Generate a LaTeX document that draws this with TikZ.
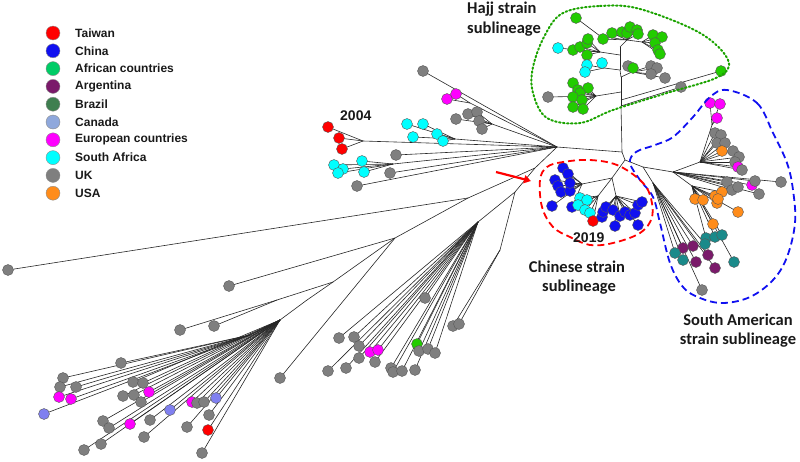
\documentclass[tikz,border=0pt]{standalone}
\usepackage{fontspec}
\setmainfont{Liberation Sans}
\newfontfamily\calib{Carlito}
\usetikzlibrary{arrows.meta}
\definecolor{ctw}{HTML}{FF0000}
\definecolor{ccb}{HTML}{1010F0}
\definecolor{cgr}{HTML}{22CC00}
\definecolor{cgl}{HTML}{00CC66}
\definecolor{car}{HTML}{7A1A6A}
\definecolor{cbr}{HTML}{3F7F50}
\definecolor{cte}{HTML}{1A8A8A}
\definecolor{cca}{HTML}{8080F0}
\definecolor{ccl}{HTML}{8FA8DC}
\definecolor{ceu}{HTML}{FF00FF}
\definecolor{ccy}{HTML}{00FFFF}
\definecolor{cuk}{HTML}{7F7F7F}
\definecolor{cus}{HTML}{FF8C1A}
\def\Leaves{%
gr/576/18/hB, gr/603/39/hA, gr/612/33/hA, gr/622/32/hA, gr/627/33/hA, gr/630/27/hA, gr/637/30/hA, gr/638/34/hA,
gr/653/35/hC, gr/662/37/hC, gr/655/43/hC, gr/658/50/hC, gr/660/54/hC,
cy/558/48/hD, gr/573/50/hD, gr/580/47/hD, gr/587/43/hD, gr/588/39/hD, gr/587/55/hD,
cy/587/65/hE, cy/585/72/hE, cy/602/63/hE,
uk/628/66/hF, gr/633/68/hF, uk/651/66/hF, uk/657/68/hF, uk/651/74/hF, uk/665/78/hF,
uk/548/97/hG, gr/573/83/hG, gr/578/90/hG, gr/588/88/hG, gr/580/93/hG, gr/573/97/hG, gr/582/100/hG, gr/573/107/hG, gr/583/109/hG,
gr/721/71/t5, uk/681/87/t6,
cb/563/168/cL, cb/568/174/cL, cb/555/180/cL, cb/558/186/cL, cb/561/192/cL, cb/570/191/cL, cb/570/183/cL, cb/552/206/cL, cb/572/207/cL,
cy/580/198/cC, cy/587/200/cC, cy/578/205/cC, cy/585/210/cC, cy/590/213/cC, tw/593/221/cC,
cb/602/217/cR, cb/603/212/cR, cb/606/207/cR, cb/613/210/cR, cb/620/216/cR, cb/625/212/cR, cb/630/215/cR, cb/635/213/cR, cb/638/205/cR, cb/642/202/cR, cb/615/226/cR, cb/638/225/cR,
eu/710/103/sm, eu/720/104/sm, eu/717/118/sm,
uk/715/133/sa3, uk/721/135/sa3, uk/717/143/sa3, uk/725/143/sa3, us/722/151/sa3, uk/733/151/sa3, uk/739/157/sa3, uk/735/162/sa3, eu/738/167/sa3, uk/742/170/sa3,
uk/727/182/sa2, uk/732/190/sa2, uk/738/187/sa2, eu/752/185/sa2, uk/755/181/sa2, uk/759/194/sa2, uk/781/182/sa2,
us/695/199/sa4, us/703/200/sa4, us/715/196/sa4, us/722/192/sa4, us/717/203/sa4, us/718/199/sa4, us/738/212/sa4, us/713/224/sa4,
te/706/238/sa4, te/715/237/sa4, te/722/235/sa4, te/734/262/sa4,
te/705/244/sa5, ar/683/248/sa5, ar/693/246/sa5, te/675/253/sa5, te/683/260/sa5, ar/708/255/sa5, ar/696/262/sa5, ar/715/268/sa5, uk/702/290/sa5,
uk/423/71/A, eu/447/99/jMag, eu/456/94/jMag, uk/456/119/jGr, uk/468/114/jGr, uk/477/112/jGr, uk/479/121/jGr, uk/482/129/jGr,
cy/407/124/jCy, cy/423/124/jCy, cy/413/137/jCy, cy/437/134/jCy, cy/443/141/jCy,
tw/328/127/j04, tw/339/138/j04, tw/342/149/j04,
cy/334/165/jCy2, cy/343/169/jCy2, cy/338/173/jCy2, cy/362/161/jCy2, cy/364/172/jCy2,
uk/396/155/A, uk/390/173/A, uk/357/186/A,
uk/8/270/L1, uk/229/286/L2, uk/280/378/L2, uk/214/326/L5, uk/180/330/L5,
uk/121/363/J1, uk/63/378/J1, uk/60/387/J1, uk/76/387/J1, eu/59/397/J1, eu/71/399/J1, ca/44/414/J1,
uk/133/382/J0, uk/143/383/J0, eu/149/392/J0, uk/123/396/J0, uk/134/395/J0, uk/141/402/J0, uk/103/421/J0, uk/109/428/J0, eu/130/424/J0, uk/150/420/J0, ca/170/410/J0, uk/144/437/J0, uk/101/444/J0, uk/84/450/J0,
eu/192/402/J0, uk/197/403/J0, uk/204/402/J0, ca/216/398/J0, uk/209/415/J0, uk/187/427/J0, tw/208/430/J0, uk/202/453/J0,
uk/425/298/M, uk/339/338/M, uk/354/337/M, uk/359/346/M, eu/370/352/M, eu/378/350/M, uk/359/358/M, uk/375/362/M, uk/328/371/M, uk/346/368/M,
gr/417/344/M, uk/419/351/M, uk/428/349/M, uk/435/353/M, uk/391/368/M, uk/393/372/M, uk/402/371/M, uk/415/370/M,
uk/453/326/M3, uk/459/324/M3}
\def\Edges{A/H0, H0/t6, t6/t5, t5/t4, t4/t3, t3/t2, t2/t1, t1/Htop, Htop/hA, hA/hB, hA/hC, t1/hD, t2/hE, t3/hF, t4/hG,
H0/S0, S0/C0, C0/cL, C0/cC, C0/cR, S0/sa1, sa1/sa2, sa2/sa3, sa3/sm, sa2/sa4, sa1/sa5,
A/jMag, A/jGr, A/jCy, A/j04, A/jCy2, A/B, B/L1, L1/L2, L2/L3, L3/L4, L4/J0, L3/L5, J0/J1, B/M2, M2/M, M2/M3}
\tikzset{
  br/.style={line width=0.6pt, black!85},
  leaf/.style={draw=black!65, line width=0.4pt},
  legtext/.style={anchor=west, font=\fontsize{12}{14}\selectfont\bfseries, text=black!90, inner sep=0pt},
  sublab/.style={font=\calib\fontsize{16.5}{20}\selectfont\bfseries, text=black!90, inner sep=0pt},
  yearlab/.style={anchor=base west, font=\fontsize{14}{16}\selectfont\bfseries, text=black!90, inner sep=0pt},
}
\begin{document}
\begin{tikzpicture}[x=1pt,y=-1pt]
\path[use as bounding box] (0,0) rectangle (800,461);
% junctions
\coordinate (A) at (557,147);
\coordinate (H0) at (622,152);
\coordinate (Htop) at (620,47);
\coordinate (hA) at (627,40);
\coordinate (hB) at (600,36);
\coordinate (hC) at (642,42);
\coordinate (t1) at (620,55);
\coordinate (hD) at (600,52);
\coordinate (t2) at (620,70);
\coordinate (hE) at (604,68);
\coordinate (t3) at (621,77);
\coordinate (hF) at (632,72);
\coordinate (t4) at (621,92);
\coordinate (hG) at (596,96);
\coordinate (t5) at (621,100);
\coordinate (t6) at (621,106);
\coordinate (S0) at (625,160);
\coordinate (C0) at (612,178);
\coordinate (cL) at (582,184);
\coordinate (cC) at (598,196);
\coordinate (cR) at (616,196);
\coordinate (sa1) at (643,167);
\coordinate (sa2) at (673,172);
\coordinate (sa3) at (700,162);
\coordinate (sm) at (712,125);
\coordinate (sa4) at (692,186);
\coordinate (sa5) at (653,183);
\coordinate (jMag) at (470,103);
\coordinate (jGr) at (492,124);
\coordinate (jCy) at (455,139);
\coordinate (j04) at (363,141);
\coordinate (jCy2) at (393,164);
\coordinate (B) at (535,168);
\coordinate (L1) at (468,198);
\coordinate (L2) at (395,238);
\coordinate (L3) at (333,282);
\coordinate (L4) at (307,300);
\coordinate (L5) at (277,300);
\coordinate (J0) at (280,320);
\coordinate (J1) at (250,335);
\coordinate (M2) at (515,192);
\coordinate (M) at (478,222);
\coordinate (M3) at (500,250);
% branches
\foreach \a/\b in \Edges {\draw[br] (\a) -- (\b);}
\foreach \c/\x/\y/\p in \Leaves {\draw[br] (\p) -- (\x,\y);}
% leaves
\foreach \c/\x/\y/\p in \Leaves {\filldraw[leaf, fill=c\c] (\x,\y) circle (5.5pt);}
% outlines
\draw[cgr!80!black, line width=2pt, dash pattern=on 1.6pt off 2.4pt, line cap=round]
  plot[smooth cycle, tension=0.6] coordinates {(563,13) (600,6) (640,9) (700,33) (728,60) (718,77) (667,93) (613,110) (580,123) (547,118) (533,93) (533,67) (545,35)};
\draw[ccb, line width=1.8pt, dash pattern=on 7pt off 4pt]
  plot[smooth cycle, tension=0.6] coordinates {(727,90) (757,103) (773,133) (787,163) (793,190) (795,223) (787,257) (773,280) (750,297) (723,303) (700,298) (683,287) (670,263) (660,223) (653,197) (640,180) (630,163) (636,152) (655,145) (673,137) (693,117) (710,97)};
\draw[ctw, line width=1.8pt, dash pattern=on 7pt off 4pt]
  plot[smooth cycle, tension=0.6] coordinates {(540,180) (547,167) (563,162) (590,160) (617,165) (640,180) (650,195) (652,217) (640,233) (613,243) (590,245) (570,237) (553,227) (542,207)};
% arrow
\draw[ctw, line width=2.2pt, -{Triangle[length=7pt,width=8pt]}] (496,172) -- (531,181);
% labels
\node[sublab, anchor=base west] (hajj1) at (467,13) {Hajj strain};
\node[sublab, anchor=base west] (hajj2) at (467,33) {sublineage};
\node[yearlab] (y2004) at (340,120) {2004};
\node[yearlab] (y2019) at (573,242) {2019};
\node[sublab, anchor=base] (ch1) at (577,272) {Chinese strain};
\node[sublab, anchor=base] (ch2) at (579,291) {sublineage};
\node[sublab, anchor=base] (sa1l) at (738,325) {South American};
\node[sublab, anchor=base] (sa2l) at (738,344) {strain sublineage};
% legend
\foreach \c/\t [count=\i from 0] in {tw/Taiwan, cb/China, gl/African countries, ar/Argentina, br/Brazil, cl/Canada, eu/European countries, cy/South Africa, uk/UK, us/USA} {
  \filldraw[draw=black!45, line width=0.4pt, fill=c\c] (53,33+17.8*\i) circle (7pt);
  \node[legtext] (lg\i) at (75,33+17.8*\i) {\t};
}
\end{tikzpicture}
\end{document}
